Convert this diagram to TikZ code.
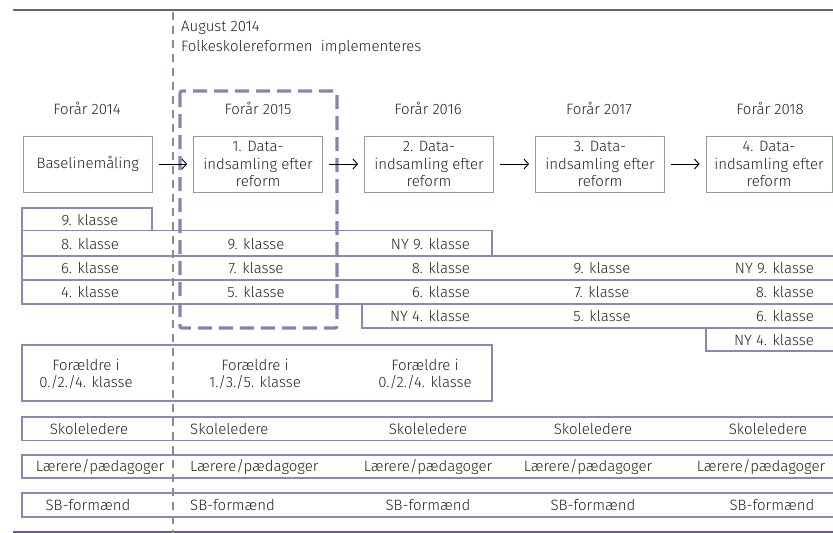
\documentclass[tikz,border=0pt]{standalone}
\usepackage{fontspec}
\setmainfont{Fira Sans Light}
\usetikzlibrary{arrows.meta}

\begin{document}
\begin{tikzpicture}[x=1pt, y=-1pt,
	every node/.style={font=\fontsize{15}{17.5}\selectfont, text=txt, inner sep=0pt, align=center},
	row/.style={draw=rowline, line width=1.1pt},
	databox/.style={draw=boxline, line width=0.9pt, minimum width=129pt, minimum height=56pt},
	flow/.style={-{Straight Barb[length=4.5pt,width=10pt]}, line width=0.9pt, shorten <=6pt, shorten >=6pt}]
	\definecolor{txt}{RGB}{35, 35, 35}
	\definecolor{topline}{RGB}{108, 94, 140}
	\definecolor{rowline}{RGB}{146, 132, 180}
	\definecolor{boxline}{RGB}{143, 158, 142}
	\definecolor{reformline}{RGB}{128, 148, 126}
	\definecolor{yearframe}{RGB}{143, 127, 176}

	\useasboundingbox (0,0) rectangle (833,533);
	\clip (0,0) rectangle (833,533);

	\draw[topline, line width=2.6pt] (13,10) -- (840,10);
	\draw[topline, line width=1.6pt] (13,532) -- (840,532);

	% student rows
	\draw[row] (22,208) rectangle (152,230.7);
	\draw[row] (22,230.7) rectangle (492,256);
	\draw[row] (22,256) rectangle (845,280);
	\draw[row] (22,280) rectangle (845,304);
	\draw[row] (362,304) rectangle (845,328);
	\draw[row] (706,328) rectangle (845,351);
	\draw[row] (22,345) rectangle (492,401);
	\draw[row] (22,417) rectangle (845,440.5);
	\draw[row] (22,455) rectangle (845,478);
	\draw[row] (22,493) rectangle (845,517);

	\draw[reformline, line width=2.2pt, dash pattern=on 8pt off 6pt] (173,12) -- (173,533);
	\draw[yearframe, line width=3.2pt, dash pattern=on 14pt off 7pt, rounded corners=2pt] (180,91) rectangle (337,328);

	\draw (181,28) node[anchor=west] (aug) {August 2014};
	\draw (181,47) node[anchor=west] (reform) {Folkeskolereformen\ \ implementeres};

	\draw (87,108) node (h14) {Forår 2014};
	\draw (258,108) node (h15) {Forår 2015};
	\draw (428,108) node (h16) {Forår 2016};
	\draw (599,108) node (h17) {Forår 2017};
	\draw (770,108) node (h18) {Forår 2018};

	\draw (87.7,164) node[databox] (base) {Baselinemåling};
	\draw (258,164) node[databox] (d1) {1. Data-\\indsamling efter\\reform};
	\draw (429,164) node[databox] (d2) {2. Data-\\indsamling efter\\reform};
	\draw (600,164) node[databox] (d3) {3. Data-\\indsamling efter\\reform};
	\draw (769,164) node[databox, minimum width=126pt] (d4) {4. Data-\\indsamling efter\\reform};
	\draw[flow] (base) -- (d1);
	\draw[flow] (d1) -- (d2);
	\draw[flow] (d2) -- (d3);
	\draw[flow] (d3) -- (d4);

	\draw (90,220) node (k9a) {9. klasse};
	\draw (90,244) node (k8a) {8. klasse};
	\draw (256,244) node (k9b) {9. klasse};
	\draw (470,244) node[anchor=east] (ny9c) {NY 9. klasse};
	\draw (90,268.5) node (k6a) {6. klasse};
	\draw (256,268.5) node (k7b) {7. klasse};
	\draw (470,268.5) node[anchor=east] (k8c) {8. klasse};
	\draw (602,268.5) node (k9d) {9. klasse};
	\draw (814,268.5) node[anchor=east] (ny9e) {NY 9. klasse};
	\draw (90,292.5) node (k4a) {4. klasse};
	\draw (256,292.5) node (k5b) {5. klasse};
	\draw (470,292.5) node[anchor=east] (k6c) {6. klasse};
	\draw (602,292.5) node (k7d) {7. klasse};
	\draw (814,292.5) node[anchor=east] (k8e) {8. klasse};
	\draw (470,316.5) node[anchor=east] (ny4c) {NY 4. klasse};
	\draw (602,316.5) node (k5d) {5. klasse};
	\draw (814,316.5) node[anchor=east] (k6e) {6. klasse};
	\draw (814,340) node[anchor=east] (ny4e) {NY 4. klasse};

	\draw (86,374) node (fa) {Forældre i\\0./2./4. klasse};
	\draw (255,374) node (fb) {Forældre i\\1./3./5. klasse};
	\draw (425,374) node (fc) {Forældre i\\0./2./4. klasse};

	\draw (89,429) node (sa) {Skoleledere};
	\draw (190,429) node[anchor=west] (sb) {Skoleledere};
	\draw (428,429) node (sc) {Skoleledere};
	\draw (593,429) node (sd) {Skoleledere};
	\draw (768,429) node (se) {Skoleledere};

	\draw (100,467) node (la) {Lærere/pædagoger};
	\draw (190,467) node[anchor=west] (lb) {Lærere/pædagoger};
	\draw (428,467) node (lc) {Lærere/pædagoger};
	\draw (588,467) node (ld) {Lærere/pædagoger};
	\draw (761,467) node (le) {Lærere/pædagoger};

	\draw (88,505) node (fma) {SB-formænd};
	\draw (190,505) node[anchor=west] (fmb) {SB-formænd};
	\draw (428,505) node (fmc) {SB-formænd};
	\draw (593,505) node (fmd) {SB-formænd};
	\draw (772,505) node (fme) {SB-formænd};
\end{tikzpicture}
\end{document}
